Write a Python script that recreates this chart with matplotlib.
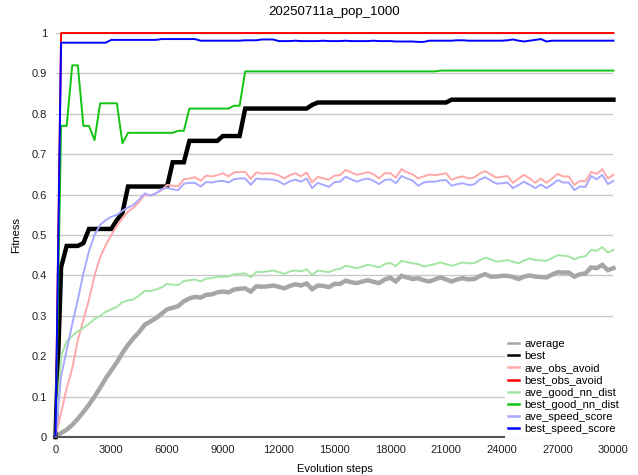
import numpy as np
import matplotlib
matplotlib.use("Agg")
import matplotlib.pyplot as plt

plt.rcParams['font.family'] = ['Liberation Sans', 'DejaVu Sans']

# evolution steps, one sample every 300 steps
steps = np.arange(0, 30001, 300)

average = [0.0, 0.01, 0.018, 0.03, 0.045, 0.062, 0.08, 0.1, 0.122, 0.145,
           0.165, 0.185, 0.208, 0.228, 0.245, 0.26, 0.278, 0.286, 0.294, 0.305,
           0.316, 0.32, 0.324, 0.336, 0.343, 0.347, 0.345, 0.352, 0.353, 0.358,
           0.36, 0.358, 0.365, 0.367, 0.368, 0.36, 0.373, 0.372, 0.373, 0.375,
           0.372, 0.368, 0.374, 0.378, 0.375, 0.38, 0.366, 0.375, 0.374, 0.371,
           0.379, 0.379, 0.387, 0.383, 0.381, 0.385, 0.388, 0.384, 0.381, 0.39,
           0.394, 0.385, 0.399, 0.395, 0.391, 0.393, 0.388, 0.385, 0.39, 0.395,
           0.39, 0.385, 0.39, 0.393, 0.39, 0.391, 0.398, 0.403, 0.397, 0.397,
           0.399, 0.399, 0.396, 0.391, 0.397, 0.4, 0.397, 0.396, 0.395, 0.402,
           0.408, 0.407, 0.407, 0.397, 0.403, 0.405, 0.42, 0.418, 0.426, 0.413,
           0.418]

best = [0.0, 0.42, 0.473, 0.473, 0.473, 0.48, 0.515, 0.515, 0.515, 0.515,
        0.515, 0.537, 0.555, 0.62, 0.62, 0.62, 0.62, 0.62, 0.62, 0.62,
        0.62, 0.68, 0.68, 0.68, 0.733, 0.733, 0.733, 0.733, 0.733, 0.733,
        0.745, 0.745, 0.745, 0.745, 0.813, 0.813, 0.813, 0.813, 0.813, 0.813,
        0.813, 0.813, 0.813, 0.813, 0.813, 0.813, 0.822, 0.828, 0.828, 0.828,
        0.828, 0.828, 0.828, 0.828, 0.828, 0.828, 0.828, 0.828, 0.828, 0.828,
        0.828, 0.828, 0.828, 0.828, 0.828, 0.828, 0.828, 0.828, 0.828, 0.828,
        0.828, 0.835, 0.835, 0.835, 0.835, 0.835, 0.835, 0.835, 0.835, 0.835,
        0.835, 0.835, 0.835, 0.835, 0.835, 0.835, 0.835, 0.835, 0.835, 0.835,
        0.835, 0.835, 0.835, 0.835, 0.835, 0.835, 0.835, 0.835, 0.835, 0.835,
        0.835]

ave_obs_avoid = [0.0, 0.06, 0.12, 0.17, 0.24, 0.29, 0.34, 0.4, 0.445, 0.475,
                 0.5, 0.523, 0.541, 0.558, 0.568, 0.582, 0.6, 0.597, 0.603, 0.611,
                 0.624, 0.622, 0.621, 0.638, 0.64, 0.643, 0.634, 0.647, 0.645, 0.648,
                 0.653, 0.645, 0.655, 0.656, 0.656, 0.639, 0.655, 0.652, 0.653, 0.652,
                 0.648, 0.64, 0.648, 0.653, 0.645, 0.655, 0.63, 0.644, 0.64, 0.637,
                 0.647, 0.648, 0.661, 0.655, 0.649, 0.652, 0.656, 0.65, 0.64, 0.653,
                 0.653, 0.642, 0.663, 0.655, 0.65, 0.64, 0.645, 0.65, 0.648, 0.65,
                 0.653, 0.637, 0.642, 0.645, 0.64, 0.642, 0.652, 0.658, 0.65, 0.642,
                 0.644, 0.646, 0.629, 0.64, 0.649, 0.64, 0.629, 0.64, 0.629, 0.64,
                 0.651, 0.645, 0.645, 0.624, 0.634, 0.633, 0.656, 0.651, 0.663, 0.64,
                 0.649]

best_obs_avoid = [0.0, 1.0, 1.0, 1.0, 1.0, 1.0, 1.0, 1.0, 1.0, 1.0,
                  1.0, 1.0, 1.0, 1.0, 1.0, 1.0, 1.0, 1.0, 1.0, 1.0,
                  1.0, 1.0, 1.0, 1.0, 1.0, 1.0, 1.0, 1.0, 1.0, 1.0,
                  1.0, 1.0, 1.0, 1.0, 1.0, 1.0, 1.0, 1.0, 1.0, 1.0,
                  1.0, 1.0, 1.0, 1.0, 1.0, 1.0, 1.0, 1.0, 1.0, 1.0,
                  1.0, 1.0, 1.0, 1.0, 1.0, 1.0, 1.0, 1.0, 1.0, 1.0,
                  1.0, 1.0, 1.0, 1.0, 1.0, 1.0, 1.0, 1.0, 1.0, 1.0,
                  1.0, 1.0, 1.0, 1.0, 1.0, 1.0, 1.0, 1.0, 1.0, 1.0,
                  1.0, 1.0, 1.0, 1.0, 1.0, 1.0, 1.0, 1.0, 1.0, 1.0,
                  1.0, 1.0, 1.0, 1.0, 1.0, 1.0, 1.0, 1.0, 1.0, 1.0,
                  1.0]

ave_good_nn_dist = [0.0, 0.2, 0.237, 0.25, 0.262, 0.27, 0.28, 0.292, 0.3, 0.31,
                    0.316, 0.322, 0.334, 0.338, 0.341, 0.35, 0.362, 0.361, 0.365, 0.37,
                    0.379, 0.377, 0.376, 0.386, 0.388, 0.39, 0.385, 0.392, 0.393, 0.397,
                    0.396, 0.397, 0.403, 0.404, 0.405, 0.395, 0.409, 0.408, 0.41, 0.412,
                    0.408, 0.404, 0.41, 0.412, 0.41, 0.415, 0.401, 0.412, 0.41, 0.408,
                    0.414, 0.416, 0.424, 0.421, 0.418, 0.422, 0.427, 0.423, 0.42, 0.428,
                    0.431, 0.423, 0.436, 0.433, 0.43, 0.428, 0.422, 0.425, 0.428, 0.432,
                    0.428, 0.424, 0.428, 0.432, 0.43, 0.43, 0.437, 0.444, 0.44, 0.434,
                    0.436, 0.438, 0.434, 0.43, 0.437, 0.442, 0.438, 0.437, 0.436, 0.443,
                    0.45, 0.449, 0.447, 0.44, 0.445, 0.448, 0.463, 0.461, 0.47, 0.457,
                    0.463]

best_good_nn_dist = [0.0, 0.77, 0.77, 0.92, 0.92, 0.77, 0.77, 0.735, 0.826, 0.826,
                     0.826, 0.826, 0.727, 0.753, 0.753, 0.753, 0.753, 0.753, 0.753, 0.753,
                     0.753, 0.753, 0.758, 0.758, 0.813, 0.813, 0.813, 0.813, 0.813, 0.813,
                     0.813, 0.813, 0.82, 0.82, 0.905, 0.905, 0.905, 0.905, 0.905, 0.905,
                     0.905, 0.905, 0.905, 0.905, 0.905, 0.905, 0.905, 0.905, 0.905, 0.905,
                     0.905, 0.905, 0.905, 0.905, 0.905, 0.905, 0.905, 0.905, 0.905, 0.905,
                     0.905, 0.905, 0.905, 0.905, 0.905, 0.905, 0.905, 0.905, 0.905, 0.907,
                     0.907, 0.907, 0.907, 0.907, 0.907, 0.907, 0.907, 0.907, 0.907, 0.907,
                     0.907, 0.907, 0.907, 0.907, 0.907, 0.907, 0.907, 0.907, 0.907, 0.907,
                     0.907, 0.907, 0.907, 0.907, 0.907, 0.907, 0.907, 0.907, 0.907, 0.907,
                     0.907]

ave_speed_score = [0.0, 0.15, 0.215, 0.28, 0.34, 0.405, 0.46, 0.5, 0.525, 0.537,
                   0.545, 0.55, 0.56, 0.568, 0.575, 0.588, 0.603, 0.598, 0.603, 0.613,
                   0.617, 0.613, 0.611, 0.627, 0.629, 0.629, 0.62, 0.631, 0.63, 0.633,
                   0.634, 0.63, 0.638, 0.64, 0.64, 0.624, 0.64, 0.638, 0.638, 0.637,
                   0.633, 0.625, 0.633, 0.637, 0.632, 0.64, 0.616, 0.629, 0.624, 0.619,
                   0.631, 0.632, 0.644, 0.638, 0.632, 0.637, 0.64, 0.634, 0.626, 0.636,
                   0.638, 0.628, 0.646, 0.64, 0.635, 0.622, 0.63, 0.632, 0.632, 0.635,
                   0.636, 0.622, 0.626, 0.628, 0.624, 0.625, 0.637, 0.643, 0.635, 0.627,
                   0.628, 0.63, 0.616, 0.624, 0.632, 0.624, 0.616, 0.625, 0.616, 0.625,
                   0.636, 0.63, 0.63, 0.611, 0.62, 0.619, 0.646, 0.638, 0.649, 0.626,
                   0.634]

best_speed_score = [0.0, 0.976, 0.976, 0.976, 0.976, 0.976, 0.976, 0.976, 0.976, 0.976,
                    0.983, 0.983, 0.983, 0.983, 0.983, 0.983, 0.983, 0.983, 0.983, 0.985,
                    0.985, 0.985, 0.985, 0.985, 0.985, 0.985, 0.981, 0.981, 0.981, 0.981,
                    0.981, 0.981, 0.981, 0.981, 0.982, 0.982, 0.982, 0.984, 0.984, 0.984,
                    0.98, 0.98, 0.98, 0.981, 0.98, 0.98, 0.98, 0.98, 0.981, 0.98,
                    0.98, 0.98, 0.981, 0.98, 0.98, 0.98, 0.98, 0.981, 0.98, 0.98,
                    0.98, 0.979, 0.979, 0.979, 0.979, 0.978, 0.978, 0.981, 0.981, 0.981,
                    0.981, 0.981, 0.982, 0.982, 0.981, 0.981, 0.981, 0.981, 0.981, 0.981,
                    0.981, 0.982, 0.984, 0.981, 0.979, 0.981, 0.983, 0.985, 0.979, 0.981,
                    0.981, 0.981, 0.981, 0.981, 0.981, 0.981, 0.981, 0.981, 0.981, 0.981,
                    0.981]

series = [
    ("average", average, "#a6a6a6", 3.2),
    ("best", best, "#000000", 3.2),
    ("ave_obs_avoid", ave_obs_avoid, "#ffa8a8", 1.4),
    ("best_obs_avoid", best_obs_avoid, "#ff0000", 1.4),
    ("ave_good_nn_dist", ave_good_nn_dist, "#a3e6a3", 1.4),
    ("best_good_nn_dist", best_good_nn_dist, "#11c411", 1.4),
    ("ave_speed_score", ave_speed_score, "#a8a8ff", 1.4),
    ("best_speed_score", best_speed_score, "#0000ff", 1.4),
]

fig = plt.figure(figsize=(6.38, 4.75), dpi=100)
ax = fig.add_axes([0.087, 0.08, 0.8745, 0.8505])

for name, vals, col, lw in series:
    ax.plot(steps, vals, color=col, lw=lw, label=name, clip_on=False,
            solid_joinstyle='miter' if lw > 2 else 'round')

ax.set_xlim(0, 30000)
ax.set_ylim(0, 1)
ax.set_xticks(np.arange(0, 30001, 3000))
ax.set_yticks(np.arange(0, 1.01, 0.1))
ax.set_yticklabels(["0", "0.1", "0.2", "0.3", "0.4", "0.5", "0.6", "0.7", "0.8", "0.9", "1"])
ax.tick_params(length=0, labelsize=8, colors="#222222", pad=6)
ax.grid(axis='y', color='#c8c8c8', lw=1)
ax.set_axisbelow(True)
for s in ['top', 'right', 'left']:
    ax.spines[s].set_visible(False)
ax.spines['bottom'].set_color('#555555')
ax.spines['bottom'].set_linewidth(1.5)

ax.set_title("20250711a_pop_1000", fontsize=9.5, pad=13)
ax.set_xlabel("Evolution steps", fontsize=8, labelpad=6)
ax.set_ylabel("Fitness", fontsize=8, labelpad=8)

leg = ax.legend(loc='upper left', bbox_to_anchor=(0.795, 0.265), fontsize=8,
                frameon=True, facecolor='white', edgecolor='none', framealpha=1,
                handlelength=1.0, handletextpad=0.5, labelspacing=0.2,
                borderpad=0.3, fancybox=False)
for h in leg.get_lines():
    h.set_linewidth(1.8)

plt.savefig("out.png", dpi=100)
